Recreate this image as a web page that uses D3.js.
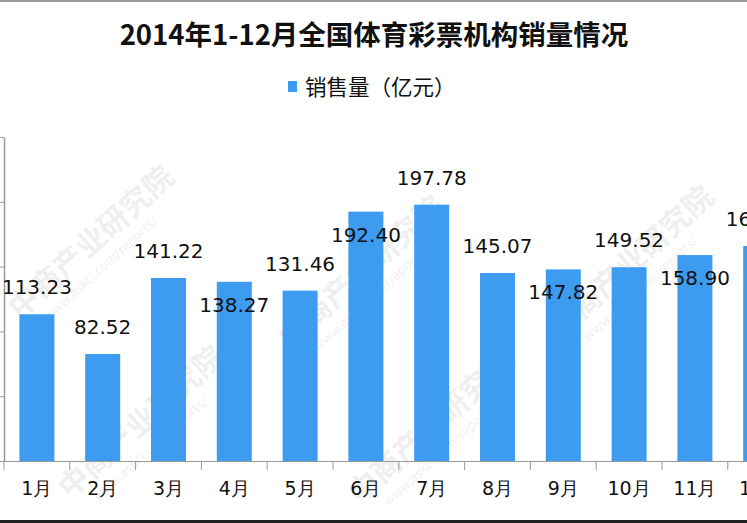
<!DOCTYPE html>
<head>
  <meta charset="utf-8">
  <script src="https://d3js.org/d3.v7.min.js"></script>
  <style>
    body {
      margin: 0;
      background: #fff;
      font-family: "DejaVu Sans", "Noto Sans CJK SC", sans-serif;
    }
    svg { display: block; }
    .axis path, .axis line { stroke: #999; }
    .value-label { font-size: 20px; fill: #111; }
    .month-label { font-size: 19px; fill: #111; }
    .watermark { fill: #000; opacity: 0.06; font-family: "Noto Sans CJK SC"; }
  </style>
</head>

<body>
  <div id="chart"></div>

  <script>
    // data
    var months = ["1月", "2月", "3月", "4月", "5月", "6月", "7月", "8月", "9月", "10月", "11月", "12月"];
    var sales = [113.23, 82.52, 141.22, 138.27, 131.46, 192.40, 197.78, 145.07, 147.82, 149.52, 158.90, 165.89];
    var yTicks = [0, 50, 100, 150, 200, 250];
    // where the value label sits relative to bar top
    var labelSide = ["up", "up", "up", "down", "up", "down", "up", "up", "down", "up", "down", "up"];

    var width = 747, height = 523;
    var svg = d3.select("#chart").append("svg")
      .attr("width", width)
      .attr("height", height);

    // faint watermarks
    var marks = [[20, 320], [290, 350], [560, 340], [70, 500], [360, 505]];
    marks.forEach(function(m) {
      var g = svg.append("g")
        .attr("class", "watermark")
        .attr("transform", "translate(" + m[0] + "," + m[1] + ") rotate(-42)");
      g.append("text").attr("font-size", 30).attr("font-weight", "bold").text("中商产业研究院");
      g.append("text").attr("font-size", 13).attr("x", 20).attr("y", 20).text("www.askci.com/reports/");
    });

    // frame lines top and bottom
    svg.append("rect").attr("x", 0).attr("y", 0).attr("width", width).attr("height", 2).attr("fill", "#999");
    svg.append("rect").attr("x", 0).attr("y", 520).attr("width", width).attr("height", 3).attr("fill", "#222");

    var x = d3.scaleBand()
      .domain(months)
      .range([4, 4 + 12 * 65.8])
      .paddingInner(0.468)
      .paddingOuter(0.234);

    var y = d3.scaleLinear()
      .domain([0, 250])
      .range([461, 137]);

    svg.append("text")
      .attr("x", 374)
      .attr("y", 45)
      .attr("text-anchor", "middle")
      .attr("font-family", "Noto Sans CJK SC")
      .attr("font-weight", "bold")
      .attr("font-size", 27.5)
      .attr("fill", "#111")
      .text("2014年1-12月全国体育彩票机构销量情况");

    // legend
    svg.append("rect")
      .attr("x", 288).attr("y", 81)
      .attr("width", 9).attr("height", 11)
      .attr("fill", "#3d9cf0");
    svg.append("text")
      .attr("x", 305)
      .attr("y", 95)
      .attr("font-family", "Noto Sans CJK SC")
      .attr("font-size", 21.5)
      .attr("fill", "#111")
      .text("销售量（亿元）");

    // y axis
    svg.append("g")
      .attr("class", "axis")
      .attr("transform", "translate(4,0)")
      .call(d3.axisLeft(y).tickValues(yTicks).tickSize(4).tickSizeOuter(0).tickFormat(""))
      .select(".domain").attr("stroke-width", 1.5);

    // bars
    svg.append("g").selectAll("rect")
      .data(sales)
      .enter().append("rect")
        .attr("x", function(d, i) { return x(months[i]); })
        .attr("y", function(d) { return y(d); })
        .attr("width", x.bandwidth())
        .attr("height", function(d) { return y(0) - y(d); })
        .attr("fill", "#3d9cf0");

    // x axis
    var xAxis = svg.append("g")
      .attr("class", "axis")
      .attr("transform", "translate(0,461)")
      .call(d3.axisBottom(x).tickSize(0).tickSizeOuter(0).tickPadding(21));
    xAxis.selectAll("text")
      .attr("class", "month-label")
      .attr("font-family", "DejaVu Sans");
    xAxis.selectAll(".sep")
      .data(d3.range(months.length + 1))
      .enter().append("line")
        .attr("class", "sep")
        .attr("x1", function(i) { return x.range()[0] + i * x.step(); })
        .attr("x2", function(i) { return x.range()[0] + i * x.step(); })
        .attr("y1", 0)
        .attr("y2", 9)
        .attr("stroke", "#999");

    // value labels
    svg.append("g").selectAll("text")
      .data(sales)
      .enter().append("text")
        .attr("class", "value-label")
        .attr("text-anchor", "middle")
        .attr("x", function(d, i) { return x(months[i]) + x.bandwidth() / 2; })
        .attr("y", function(d, i) { return labelSide[i] == "up" ? y(d) - 20 : y(d) + 30; })
        .text(function(d) { return d3.format(".2f")(d); });
  </script>
</body>
